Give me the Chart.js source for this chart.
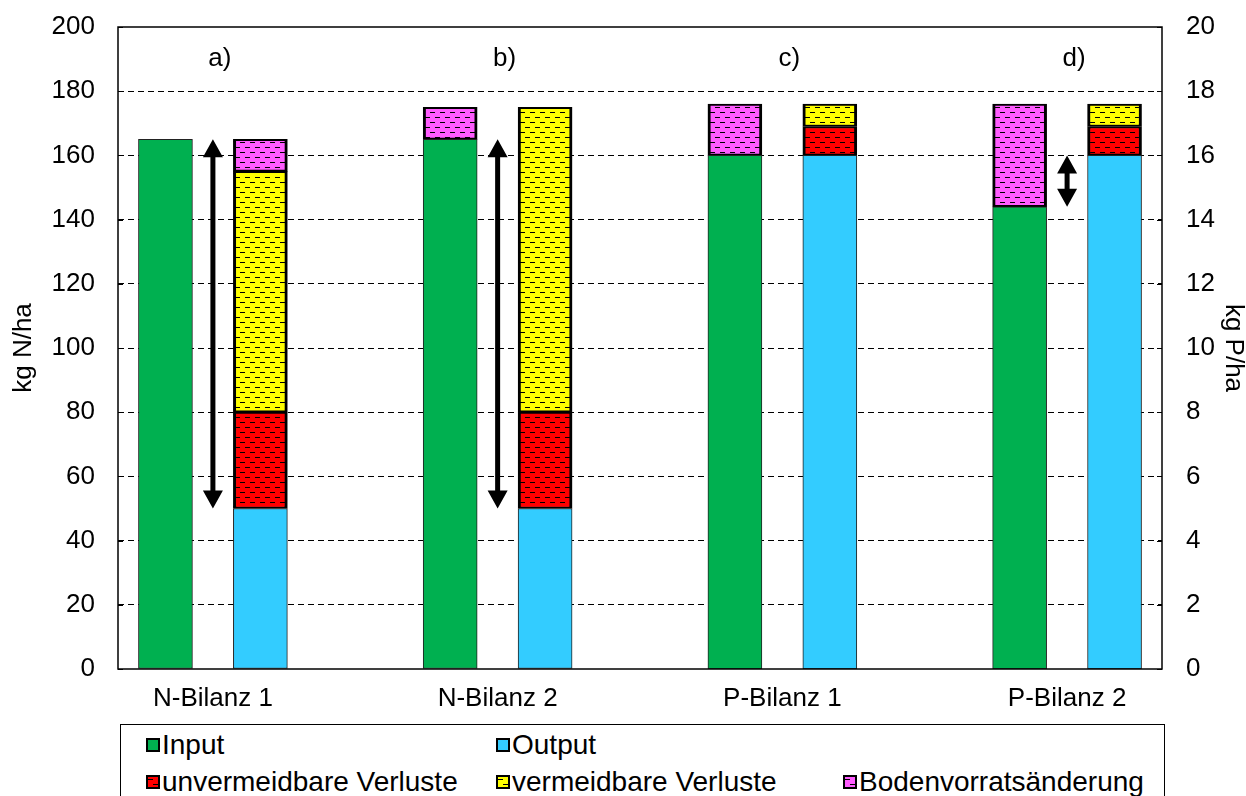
<!DOCTYPE html>
<html>
<head>
<meta charset="utf-8">
<script src="https://cdn.jsdelivr.net/npm/chart.js@4/dist/chart.umd.min.js"></script>
<style>
  html, body { margin: 0; padding: 0; background: #fff; }
  #wrap { position: relative; width: 1246px; height: 796px; overflow: hidden; }
  #legend {
    position: absolute; left: 120px; top: 724px; width: 1045px; height: 90px;
    border: 1px solid #000; box-sizing: border-box; background: #fff;
    font-family: "Liberation Sans", Arial, sans-serif; font-size: 28px; color: #000;
  }
  .item { position: absolute; display: flex; align-items: center; height: 32px; white-space: nowrap; }
  .sw { width: 10px; height: 10px; border: 2px solid #000; margin-right: 2px; }
</style>
</head>
<body>
<div id="wrap">
  <canvas id="chart" width="1246" height="796"></canvas>
  <div id="legend"></div>
</div>
<script>
// Gruppen / Achsen
const groupLabels = ['N-Bilanz 1', 'N-Bilanz 2', 'P-Bilanz 1', 'P-Bilanz 2'];
const groupPos = [1, 4, 7, 10];          // Position auf der x-Achse (11 Slots)
const panelLabels = ['a)', 'b)', 'c)', 'd)'];
const panelY = 190;

// N-Bilanzen (kg N/ha)
const nInput = [165, 165];
const nBodenIn = [null, 10];     // Bodenvorratsänderung auf der Input-Säule
const nOutput = [50, 50];
const nUnverm = [30, 30];
const nVerm = [75, 95];
const nBodenOut = [10, null];    // Bodenvorratsänderung auf der Output-Säule

// P-Bilanzen (kg P/ha)
const pInput = [16, 14.4];
const pBodenIn = [1.6, 3.2];
const pOutput = [16, 16];
const pUnverm = [0.9, 0.9];
const pVerm = [0.7, 0.7];
const pBodenOut = [null, null];

// Doppelpfeile
const arrowPos = [1, 4, 10];
const arrowFrom = [165, 165, 16];
const arrowTo = [50, 50, 14.4];
const arrowAxis = ['y', 'y', 'y2'];

const FONT = '"Liberation Sans", Arial, sans-serif';
const green = '#00B050', blue = '#33CCFF';

function makePattern(color) {
  const c = document.createElement('canvas');
  c.width = 10; c.height = 10;
  const g = c.getContext('2d');
  g.fillStyle = color; g.fillRect(0, 0, 10, 10);
  g.fillStyle = '#000';
  g.fillRect(0, 2, 5, 1);
  g.fillRect(5, 7, 5, 1);
  return c;
}
const redTile = makePattern('#FF0000');
const yellowTile = makePattern('#FFFF00');
const pinkTile = makePattern('#FF5CFF');
const ctx = document.getElementById('chart').getContext('2d');
const redPat = ctx.createPattern(redTile, 'repeat');
const yellowPat = ctx.createPattern(yellowTile, 'repeat');
const pinkPat = ctx.createPattern(pinkTile, 'repeat');

// Punkte: Input-Säule links (pos-0.5), Output-Säule rechts (pos+0.5)
function pts(pos, vals, off) {
  return pos.map((p, i) => ({ x: p + off, y: vals[i] })).filter(d => d.y !== null);
}
const nPos = groupPos.slice(0, 2);
const pPos = groupPos.slice(2);

function solid(label, data, color, axis) {
  return { label, data, yAxisID: axis, backgroundColor: color, borderColor: '#222',
           borderWidth: 1, borderSkipped: false };
}
function hatched(label, data, pat, axis) {
  return { label, data, yAxisID: axis, backgroundColor: pat, borderColor: '#000',
           borderWidth: { top: 2, bottom: 2, left: 3, right: 3 }, borderSkipped: false };
}

const datasets = [
  solid('Input', pts(nPos, nInput, -0.5), green, 'y'),
  hatched('Bodenvorratsänderung', pts(nPos, nBodenIn, -0.5), pinkPat, 'y'),
  solid('Output', pts(nPos, nOutput, 0.5), blue, 'y'),
  hatched('unvermeidbare Verluste', pts(nPos, nUnverm, 0.5), redPat, 'y'),
  hatched('vermeidbare Verluste', pts(nPos, nVerm, 0.5), yellowPat, 'y'),
  hatched('Bodenvorratsänderung', pts(nPos, nBodenOut, 0.5), pinkPat, 'y'),
  solid('Input', pts(pPos, pInput, -0.5), green, 'y2'),
  hatched('Bodenvorratsänderung', pts(pPos, pBodenIn, -0.5), pinkPat, 'y2'),
  solid('Output', pts(pPos, pOutput, 0.5), blue, 'y2'),
  hatched('unvermeidbare Verluste', pts(pPos, pUnverm, 0.5), redPat, 'y2'),
  hatched('vermeidbare Verluste', pts(pPos, pVerm, 0.5), yellowPat, 'y2'),
  hatched('Bodenvorratsänderung', pts(pPos, pBodenOut, 0.5), pinkPat, 'y2')
];

function drawArrow(c, x, yTop, yBot) {
  const hl = 18, hw = 10, sw = 2.5;
  c.beginPath();
  c.moveTo(x, yTop);
  c.lineTo(x + hw, yTop + hl);
  c.lineTo(x + sw, yTop + hl);
  c.lineTo(x + sw, yBot - hl);
  c.lineTo(x + hw, yBot - hl);
  c.lineTo(x, yBot);
  c.lineTo(x - hw, yBot - hl);
  c.lineTo(x - sw, yBot - hl);
  c.lineTo(x - sw, yTop + hl);
  c.lineTo(x - hw, yTop + hl);
  c.closePath();
  c.fillStyle = '#000';
  c.fill();
}

const overlay = {
  id: 'overlay',
  afterDatasetsDraw(chart) {
    const c = chart.ctx, s = chart.scales;
    c.save();
    arrowPos.forEach((p, i) => {
      const ys = s[arrowAxis[i]];
      drawArrow(c, s.x.getPixelForValue(p), ys.getPixelForValue(arrowFrom[i]), ys.getPixelForValue(arrowTo[i]));
    });
    c.fillStyle = '#000';
    c.font = '26px ' + FONT;
    c.textAlign = 'center';
    c.textBaseline = 'middle';
    panelLabels.forEach((t, i) => {
      c.fillText(t, s.x.getPixelForValue(groupPos[i]) + 7, s.y.getPixelForValue(panelY));
    });
    c.restore();
  },
  afterDraw(chart) {
    const c = chart.ctx, a = chart.chartArea, s = chart.scales;
    c.save();
    c.strokeStyle = '#000';
    c.lineWidth = 1.5;
    c.strokeRect(a.left, a.top, a.right - a.left, a.bottom - a.top);
    c.lineWidth = 1;
    c.beginPath();
    s.y.ticks.forEach(t => {
      const y = Math.round(s.y.getPixelForValue(t.value)) + 0.5;
      c.moveTo(a.left, y); c.lineTo(a.left + 5, y);
    });
    s.y2.ticks.forEach(t => {
      const y = Math.round(s.y2.getPixelForValue(t.value)) + 0.5;
      c.moveTo(a.right - 5, y); c.lineTo(a.right, y);
    });
    c.stroke();
    c.restore();
  }
};

const tickFont = { size: 26, family: FONT };
function fixV(w) {
  return sc => { sc.width = w; sc.paddingTop = 0; sc.paddingBottom = 0; };
}

new Chart(ctx, {
  type: 'bar',
  data: { datasets },
  options: {
    responsive: false,
    animation: false,
    layout: { padding: { top: 27, left: 0, right: 0, bottom: 0 } },
    plugins: { legend: { display: false }, tooltip: { enabled: false } },
    datasets: { bar: { barThickness: 54 } },
    scales: {
      x: {
        type: 'linear', min: 0, max: 11, stacked: true, offset: false,
        grid: { display: false, offset: false }, border: { display: false },
        afterBuildTicks: sc => { sc.ticks = groupPos.map(v => ({ value: v })); },
        afterFit: sc => { sc.height = 127; sc.paddingLeft = 0; sc.paddingRight = 0; },
        ticks: { autoSkip: false, maxRotation: 0, padding: 6, color: '#000', font: tickFont,
                 callback: (v, i) => groupLabels[i] }
      },
      y: {
        position: 'left', min: 0, max: 200, stacked: true,
        afterFit: fixV(118),
        ticks: { stepSize: 20, padding: 23, color: '#000', font: tickFont },
        grid: { drawTicks: false, lineWidth: 1,
                color: c => (c.tick && (c.tick.value === 0 || c.tick.value === 200)) ? 'rgba(0,0,0,0)' : '#000' },
        border: { display: false, dash: [6, 4] },
        title: { display: true, text: 'kg N/ha', color: '#000', font: { size: 26, family: FONT, lineHeight: 1 }, padding: { top: 11, bottom: 0 } }
      },
      y2: {
        position: 'right', min: 0, max: 20, stacked: true,
        afterFit: fixV(84),
        ticks: { stepSize: 2, padding: 24, color: '#000', font: tickFont },
        grid: { display: false, drawTicks: false }, border: { display: false },
        title: { display: true, text: 'kg P/ha', color: '#000', font: { size: 26, family: FONT, lineHeight: 1 }, padding: { top: 0, bottom: 0 } }
      }
    }
  },
  plugins: [overlay]
});

// Legende
const legendItems = [
  { text: 'Input', bg: green, x: 25, y: 4 },
  { text: 'Output', bg: blue, x: 375, y: 4 },
  { text: 'unvermeidbare Verluste', tile: redTile, x: 25, y: 41 },
  { text: 'vermeidbare Verluste', tile: yellowTile, x: 375, y: 41 },
  { text: 'Bodenvorratsänderung', tile: pinkTile, x: 722, y: 41 }
];
const legend = document.getElementById('legend');
legendItems.forEach(it => {
  const d = document.createElement('div');
  d.className = 'item';
  d.style.left = it.x + 'px';
  d.style.top = it.y + 'px';
  const sw = document.createElement('span');
  sw.className = 'sw';
  if (it.tile) sw.style.backgroundImage = 'url(' + it.tile.toDataURL() + ')';
  else sw.style.background = it.bg;
  const t = document.createElement('span');
  t.textContent = it.text;
  d.appendChild(sw);
  d.appendChild(t);
  legend.appendChild(d);
});
</script>
</body>
</html>
